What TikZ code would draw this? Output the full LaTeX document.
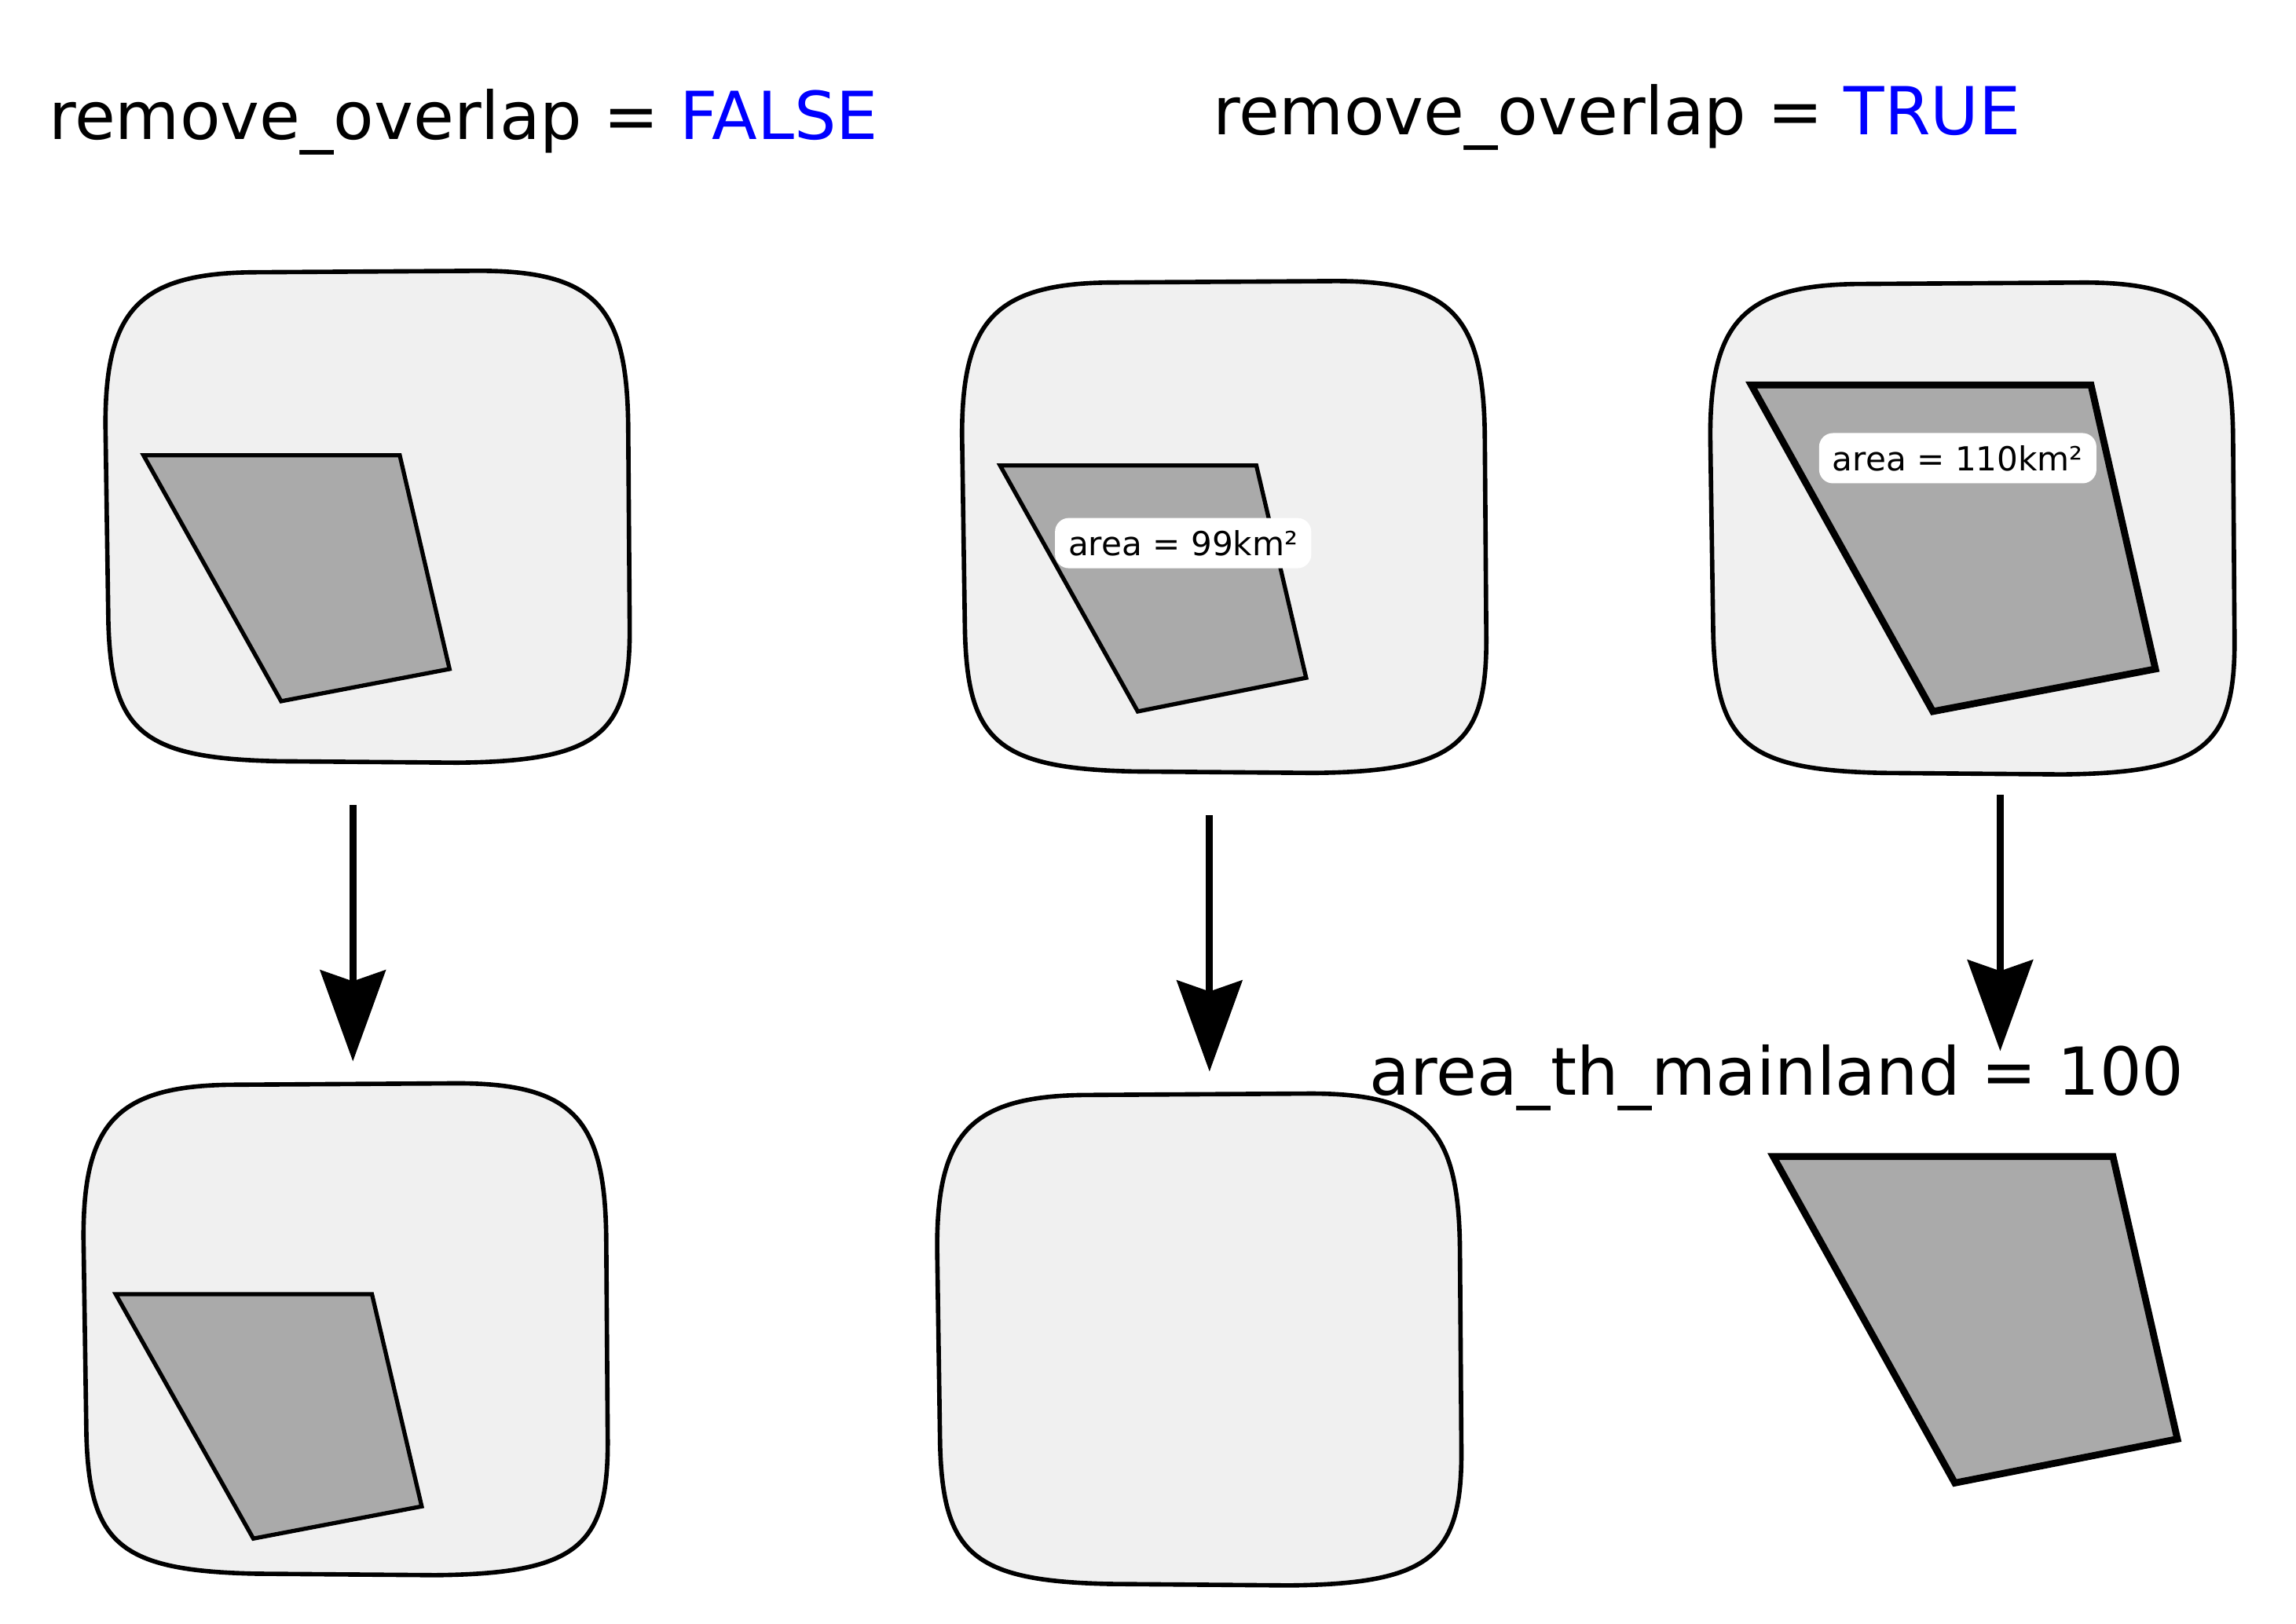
\documentclass[tikz,border=0pt]{standalone}
\usepackage{fontspec}
\setmainfont{DejaVu Sans}
\usetikzlibrary{arrows.meta}
\definecolor{landfill}{HTML}{F0F0F0}
\definecolor{islefill}{HTML}{AAAAAA}

\begin{document}
\begin{tikzpicture}[x=0.018642cm, y=-0.018642cm,
  land/.pic={\path[draw, line width=1.6pt, fill=landfill] (0,105) .. controls (0,28) and (22,2) .. (100,1) -- (255,0) .. controls (335,0) and (356,25) .. (357,105) -- (358,240) .. controls (359,315) and (340,335) .. (240,336) -- (118,335) .. controls (25,333) and (4,315) .. (2,240) -- cycle;},
  isle/.style={draw, line width=1.5pt, fill=islefill},
  title/.style={anchor=base west, inner sep=0pt, font=\fontsize{24}{28}\selectfont},
  tag/.style={fill=white, rounded corners=5pt, inner xsep=0.17cm, minimum height=0.64cm, font=\fontsize{12}{14}\selectfont},
  flow/.style={line width=2.5pt, -{Stealth[length=1.16cm, width=0.83cm, inset=0.14cm]}}]
\useasboundingbox (0,0) rectangle (1568,1109);

\node[title] (lefthead) at (33,95) {remove\_overlap = \textcolor{blue}{FALSE}};
\node[title] (righthead) at (828,92) {remove\_overlap = \textcolor{blue}{TRUE}};

\pic (fa) at (72,185) {land};
\path[isle] (98,311) -- (273,311) -- (307,457) -- (192,479) -- cycle;
\pic (fb) at (57,740) {land};
\path[isle] (79,884) -- (254,884) -- (288,1029) -- (173,1051) -- cycle;

\pic (ta) at (657,192) {land};
\path[isle] (683,318) -- (858,318) -- (892,463) -- (777,486) -- cycle;
\node[tag] (t99) at (808,371) {area = 99km²};
\pic (tb) at (640,747) {land};

\pic (ma) at (1168,193) {land};
\path[isle, line width=2.5pt] (1196,263) -- (1428,263) -- (1472,457) -- (1320,486) -- cycle;
\node[tag] (t110) at (1337,313) {area = 110km²};
\path[isle, line width=2.5pt] (1211,790) -- (1443,790) -- (1487,983) -- (1335,1013) -- cycle;

\coordinate (fa1) at (241,550);
\coordinate (fa2) at (241,725);
\path[draw,flow] (fa1) -- (fa2);
\coordinate (ta1) at (826,557);
\coordinate (ta2) at (826,732);
\path[draw,flow] (ta1) -- (ta2);
\coordinate (ma1) at (1366,543);
\coordinate (ma2) at (1366,718);
\path[draw,flow] (ma1) -- (ma2);

\node[title] (thresh) at (935,748) {area\_th\_mainland = 100};
\end{tikzpicture}
\end{document}
